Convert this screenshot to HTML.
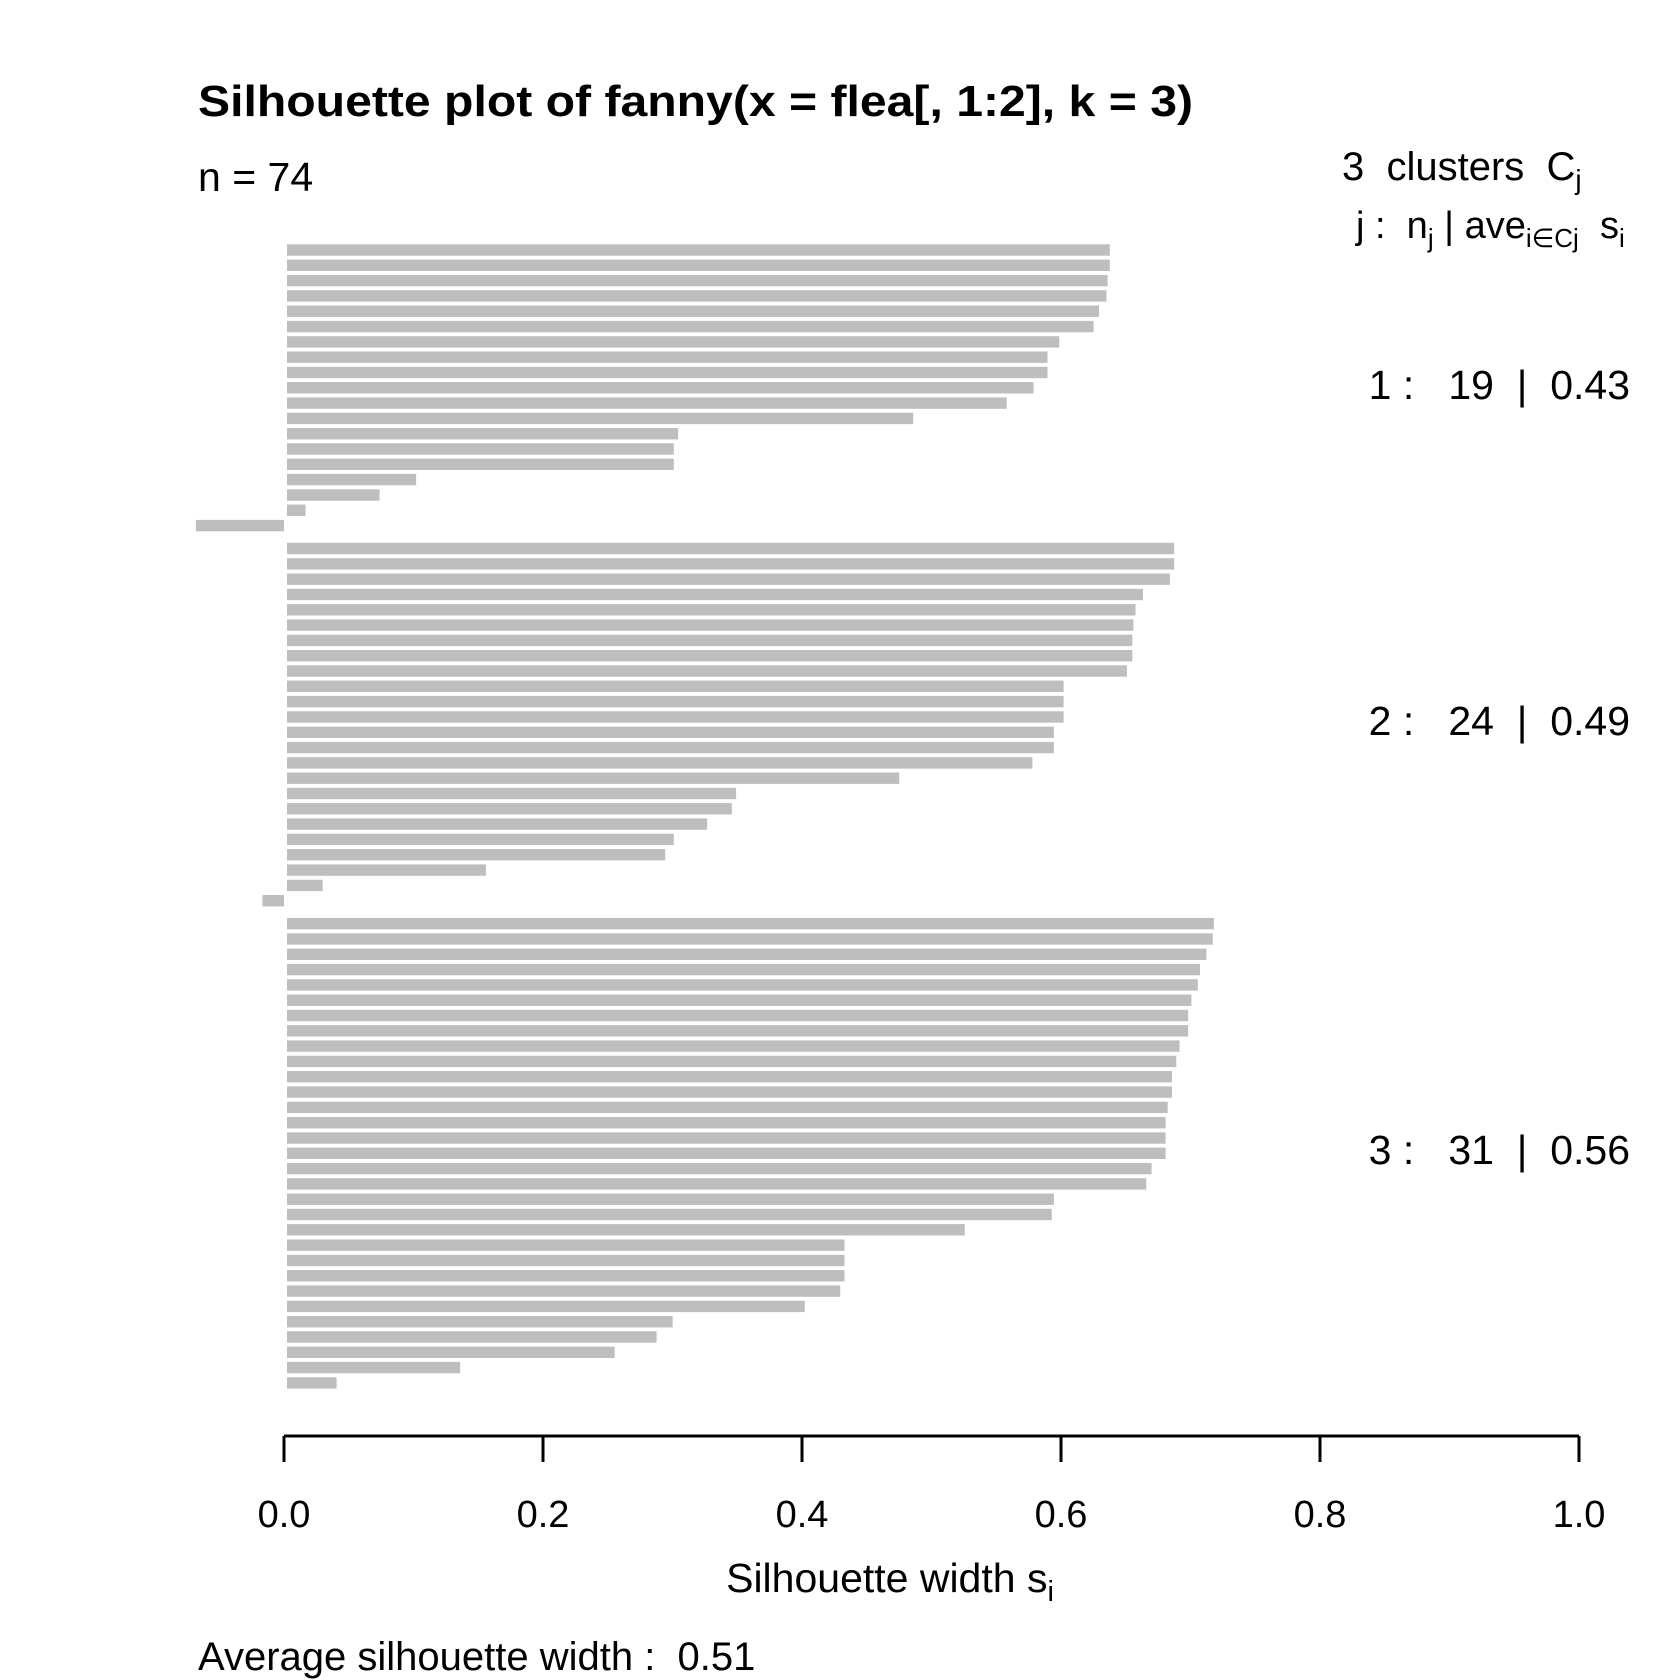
<!DOCTYPE html>
<html><head><meta charset="utf-8"><style>html,body{margin:0;padding:0;background:#fff}svg{display:block}</style></head>
<body>
<svg id="s" width="1680" height="1680" viewBox="0 0 1680 1680" xmlns="http://www.w3.org/2000/svg" font-family="Liberation Sans, Arial, sans-serif" fill="#000">
<g id="bars" fill="#bebebe"></g>
<text x="198" y="116" font-size="44" font-weight="bold" textLength="995" lengthAdjust="spacingAndGlyphs">Silhouette plot of fanny(x = flea[, 1:2], k = 3)</text>
<text x="198" y="191" font-size="41">n = 74</text>
<text x="1342" y="180" font-size="40" xml:space="preserve">3  clusters  C<tspan font-size="28" dy="9">j</tspan></text>
<text x="1356" y="238" font-size="38" xml:space="preserve">j :  n<tspan font-size="26" dy="9">j</tspan><tspan dy="-9"> | ave</tspan><tspan font-size="26" dy="9">i∈Cj</tspan><tspan dy="-9">  s</tspan><tspan font-size="26" dy="9">i</tspan></text>
<text x="1630" y="399" font-size="41" text-anchor="end" xml:space="preserve">1 :   19  |  0.43</text>
<text x="1630" y="735" font-size="41" text-anchor="end" xml:space="preserve">2 :   24  |  0.49</text>
<text x="1630" y="1164" font-size="41" text-anchor="end" xml:space="preserve">3 :   31  |  0.56</text>
<g stroke="#000" stroke-width="3" fill="none">
<path d="M284 1436H1579"/>
<path d="M284 1436V1462M543 1436V1462M802 1436V1462M1061 1436V1462M1320 1436V1462M1579 1436V1462"/>
</g>
<g font-size="38" text-anchor="middle">
<text x="284" y="1527">0.0</text><text x="543" y="1527">0.2</text><text x="802" y="1527">0.4</text>
<text x="1061" y="1527">0.6</text><text x="1320" y="1527">0.8</text><text x="1579" y="1527">1.0</text>
</g>
<text x="890" y="1592" font-size="41" text-anchor="middle">Silhouette width s<tspan font-size="29" dy="9">i</tspan></text>
<text x="198" y="1670" font-size="40" xml:space="preserve">Average silhouette width :  0.51</text>
</svg>
<script>
var c=[[1036,1036,1034,1033,1026,1021,989,978,978,965,940,853,634,630,630,390,356,287,185],
[1096,1096,1092,1067,1060,1058,1057,1057,1052,993,993,993,984,984,964,840,688,684,661,630,622,455,303,247],
[1133,1132,1126,1120,1118,1112,1109,1109,1101,1098,1094,1094,1090,1088,1088,1088,1075,1070,984,982,901,789,789,789,785,752,629,614,575,431,316]];
var g=document.getElementById('bars'),h='',i=0,p=15.31;
function X(d){return 284+(d-267)*1.0738;}
for(var k=0;k<3;k++){for(var j=0;j<c[k].length;j++){
var y=250+p*(i+0.5*k)-5.7;var x0=287,x1=X(c[k][j]);
if(c[k][j]<267){x0=X(c[k][j]);x1=284;}
h+='<rect x="'+x0.toFixed(1)+'" y="'+y.toFixed(1)+'" width="'+(x1-x0).toFixed(1)+'" height="11.4"/>';i++;}}
g.innerHTML=h;
</script>
</body></html>
